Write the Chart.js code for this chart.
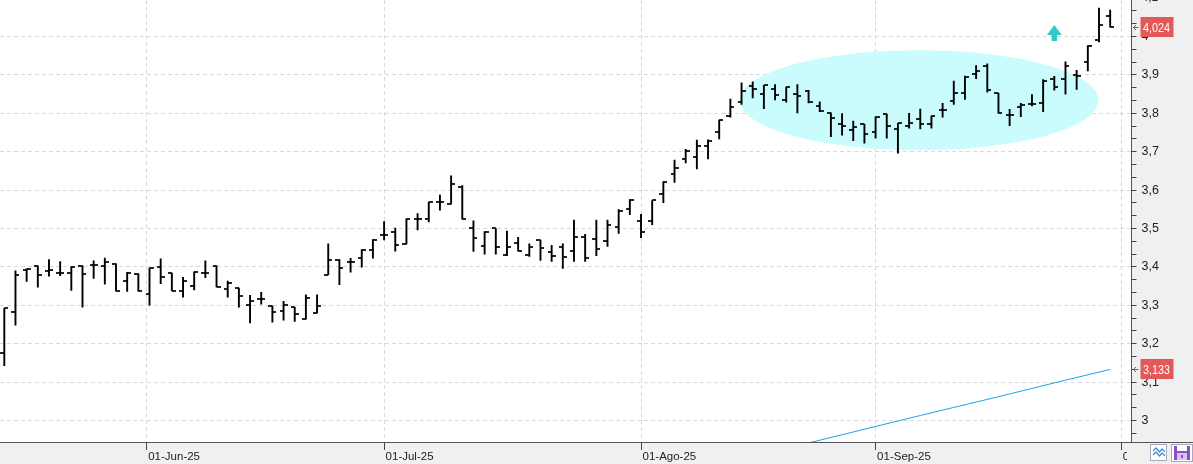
<!DOCTYPE html>
<html>
<head>
<meta charset="utf-8">
<script src="https://cdn.jsdelivr.net/npm/chart.js@4"></script>
<style>
html, body { margin: 0; padding: 0; background: #f0f0f0; overflow: hidden; }
#wrap { width: 1193px; height: 464px; }
</style>
</head>
<body>
<div id="wrap"><canvas id="chart" width="1193" height="464"></canvas></div>
<script>

// daily OHLC, one entry per trading day (14-May-25 .. 30-Sep-25)
const openPrices = [
	3.177, 3.283, 3.392, 3.403, 3.390, 3.383, 3.385, 3.403, 3.404, 3.402,
	3.408, 3.363, 3.382, 3.330, 3.401, 3.384, 3.337, 3.351, 3.383, 3.403,
	3.343, 3.345, 3.300, 3.317, 3.298, 3.284, 3.295, 3.264, 3.280, 3.380,
	3.419, 3.413, 3.423, 3.445, 3.484, 3.490, 3.460, 3.524, 3.525, 3.569,
	3.564, 3.608, 3.500, 3.454, 3.500, 3.430, 3.461, 3.430, 3.470, 3.440,
	3.452, 3.441, 3.477, 3.473, 3.467, 3.503, 3.550, 3.520, 3.519, 3.589,
	3.642, 3.681, 3.686, 3.716, 3.750, 3.792, 3.829, 3.872, 3.851, 3.862,
	3.834, 3.851, 3.858, 3.819, 3.801, 3.773, 3.757, 3.771, 3.750, 3.798,
	3.758, 3.766, 3.785, 3.772, 3.809, 3.832, 3.852, 3.902, 3.922, 3.852,
	3.796, 3.817, 3.825, 3.826, 3.888, 3.888, 3.899, 3.934, 3.991, 4.053
];
const highPrices = [
	3.292, 3.390, 3.395, 3.403, 3.419, 3.414, 3.401, 3.403, 3.416, 3.423,
	3.408, 3.386, 3.382, 3.397, 3.421, 3.384, 3.373, 3.387, 3.416, 3.403,
	3.363, 3.345, 3.326, 3.334, 3.298, 3.310, 3.295, 3.327, 3.327, 3.460,
	3.419, 3.422, 3.445, 3.471, 3.518, 3.501, 3.525, 3.539, 3.569, 3.587,
	3.637, 3.612, 3.520, 3.492, 3.500, 3.493, 3.477, 3.460, 3.470, 3.456,
	3.460, 3.522, 3.485, 3.522, 3.522, 3.549, 3.575, 3.537, 3.573, 3.622,
	3.678, 3.706, 3.730, 3.731, 3.782, 3.837, 3.879, 3.882, 3.873, 3.875,
	3.868, 3.875, 3.860, 3.830, 3.801, 3.799, 3.780, 3.771, 3.791, 3.798,
	3.774, 3.800, 3.811, 3.793, 3.826, 3.884, 3.897, 3.924, 3.929, 3.852,
	3.810, 3.826, 3.849, 3.888, 3.896, 3.934, 3.912, 3.976, 4.074, 4.069
];
const lowPrices = [
	3.143, 3.248, 3.362, 3.347, 3.376, 3.377, 3.339, 3.295, 3.370, 3.355,
	3.337, 3.336, 3.337, 3.300, 3.356, 3.338, 3.321, 3.340, 3.372, 3.348,
	3.321, 3.295, 3.254, 3.303, 3.256, 3.261, 3.258, 3.264, 3.280, 3.380,
	3.354, 3.386, 3.399, 3.423, 3.470, 3.441, 3.460, 3.496, 3.517, 3.548,
	3.564, 3.524, 3.440, 3.433, 3.433, 3.429, 3.441, 3.427, 3.417, 3.414,
	3.396, 3.414, 3.414, 3.429, 3.453, 3.487, 3.536, 3.476, 3.510, 3.567,
	3.620, 3.671, 3.655, 3.681, 3.733, 3.790, 3.823, 3.840, 3.812, 3.835,
	3.829, 3.801, 3.827, 3.804, 3.739, 3.743, 3.729, 3.722, 3.735, 3.735,
	3.696, 3.761, 3.759, 3.761, 3.790, 3.823, 3.836, 3.890, 3.855, 3.800,
	3.768, 3.791, 3.819, 3.804, 3.860, 3.850, 3.862, 3.910, 3.986, 4.024
];
const closePrices = [
	3.292, 3.380, 3.395, 3.380, 3.392, 3.384, 3.401, 3.382, 3.404, 3.413,
	3.338, 3.383, 3.337, 3.397, 3.374, 3.338, 3.363, 3.387, 3.383, 3.348,
	3.357, 3.324, 3.312, 3.317, 3.282, 3.301, 3.277, 3.320, 3.299, 3.417,
	3.396, 3.413, 3.445, 3.471, 3.484, 3.457, 3.525, 3.524, 3.569, 3.569,
	3.616, 3.524, 3.474, 3.492, 3.452, 3.451, 3.441, 3.451, 3.449, 3.428,
	3.426, 3.477, 3.423, 3.447, 3.510, 3.546, 3.574, 3.490, 3.573, 3.622,
	3.657, 3.703, 3.716, 3.728, 3.782, 3.817, 3.858, 3.862, 3.873, 3.847,
	3.868, 3.845, 3.829, 3.806, 3.789, 3.767, 3.763, 3.745, 3.791, 3.768,
	3.774, 3.774, 3.772, 3.792, 3.809, 3.853, 3.895, 3.910, 3.860, 3.802,
	3.796, 3.821, 3.825, 3.884, 3.869, 3.922, 3.897, 3.976, 4.030, 4.024
];

// long moving average (only its upper end is inside the window)
const maIndex = [ 68, 75, 82, 89, 95, 99 ];
const maValues = [ 2.913, 2.963, 3.013, 3.062, 3.105, 3.133 ];

// month ticks on the day axis (01-Jun falls on a Sunday, between two bars)
const tickIndex = [ 12.75, 34, 57, 78, 100 ];
const tickLabels = [ '01-Jun-25', '01-Jul-25', '01-Ago-25', '01-Sep-25', '01-Oct-25' ];

// drawn annotations, in data units
const zoneCenter = [ 81.9, 3.834 ];
const zoneRadius = [ 16.06, 0.1304 ];
const signalIndex = 94;
const signalValue = 4.030;


const plain = "'Liberation Sans', Arial, sans-serif";

function makeTick ( side ) {

	const c = document.createElement( 'canvas' );
	c.width = 8;
	c.height = 2;
	const g = c.getContext( '2d' );
	g.fillStyle = 'rgba(0,0,0,0.85)';
	g.fillRect( side === 'left' ? 0 : 4, 0, 4, 2 );
	return c;

}

function isMajor ( v ) {

	return Math.abs( v * 10 - Math.round( v * 10 ) ) < 1e-6;

}

function fmt ( v, digits ) {

	return ( digits === undefined ? String( Math.round( v * 10 ) / 10 ) : v.toFixed( digits ) ).replace( '.', ',' );

}

function noPadding ( s ) {

	s.paddingLeft = 0;
	s.paddingRight = 0;
	s.paddingTop = 0;
	s.paddingBottom = 0;

}

const decor = {
	id: 'decor',

	beforeDraw ( chart ) {

		const { ctx, chartArea: a } = chart;
		ctx.save();
		ctx.fillStyle = '#f0f0f0';
		ctx.fillRect( 0, 0, chart.width, chart.height );
		ctx.fillStyle = '#ffffff';
		ctx.fillRect( a.left, a.top, a.right - a.left, a.bottom - a.top );
		ctx.restore();

	},

	beforeDatasetsDraw ( chart ) {

		const { ctx, chartArea: a, scales: { x, y } } = chart;

		ctx.save();
		ctx.beginPath();
		ctx.rect( a.left, a.top, a.right - a.left, a.bottom - a.top );
		ctx.clip();

		// highlighted zone
		const cx = x.getPixelForValue( zoneCenter[ 0 ] );
		const cy = y.getPixelForValue( zoneCenter[ 1 ] );
		const rx = x.getPixelForValue( zoneCenter[ 0 ] + zoneRadius[ 0 ] ) - cx;
		const ry = cy - y.getPixelForValue( zoneCenter[ 1 ] + zoneRadius[ 1 ] );
		ctx.fillStyle = '#cafcfd';
		ctx.beginPath();
		ctx.ellipse( cx, cy, rx, ry, 0, 0, Math.PI * 2 );
		ctx.fill();

		// buy signal arrow
		const ax = x.getPixelForValue( signalIndex );
		const ay = y.getPixelForValue( signalValue );
		ctx.fillStyle = '#33c9c9';
		ctx.beginPath();
		ctx.moveTo( ax, ay );
		ctx.lineTo( ax + 7.5, ay + 10 );
		ctx.lineTo( ax + 2.7, ay + 10 );
		ctx.lineTo( ax + 2.7, ay + 16 );
		ctx.lineTo( ax - 2.7, ay + 16 );
		ctx.lineTo( ax - 2.7, ay + 10 );
		ctx.lineTo( ax - 7.5, ay + 10 );
		ctx.closePath();
		ctx.fill();

		ctx.restore();

	},

	afterDraw ( chart ) {

		const { ctx, scales: { y } } = chart;
		const W = chart.width;
		const H = chart.height;

		ctx.save();

		// hide the clipped october label behind the button strip
		ctx.fillStyle = '#f0f0f0';
		ctx.fillRect( 1127, y.bottom + 1, W - 1127, H - y.bottom - 1 );
		ctx.strokeStyle = '#555';
		ctx.lineWidth = 1;
		ctx.beginPath();
		ctx.moveTo( y.left, y.bottom + 0.5 );
		ctx.lineTo( W, y.bottom + 0.5 );
		ctx.stroke();

		// partial top label
		ctx.font = '12px ' + plain;
		ctx.fillStyle = '#222';
		ctx.textBaseline = 'middle';
		ctx.fillText( '4,1', y.left + 10, y.getPixelForValue( 4.1 ) );

		// last value tags
		const tags = [ closePrices[ closePrices.length - 1 ], maValues[ maValues.length - 1 ] ];
		tags.forEach( v => {

			const py = Math.round( y.getPixelForValue( v ) );
			const bx = y.left + 9;
			ctx.fillStyle = '#e35858';
			ctx.fillRect( bx, py - 10, 33, 20 );
			ctx.save();
			ctx.fillStyle = '#ffffff';
			ctx.font = '13.5px ' + plain;
			ctx.textBaseline = 'middle';
			ctx.textAlign = 'left';
			ctx.translate( bx + 2.5, py + 1 );
			ctx.scale( 0.8, 1 );
			ctx.fillText( fmt( v, 3 ), 0, 0 );
			ctx.restore();

			ctx.strokeStyle = '#666';
			ctx.lineWidth = 1;
			ctx.beginPath();
			ctx.moveTo( y.left + 2, py + 0.5 );
			ctx.lineTo( y.left + 7, py + 0.5 );
			ctx.moveTo( y.left + 4.5, py - 2 );
			ctx.lineTo( y.left + 2, py + 0.5 );
			ctx.lineTo( y.left + 4.5, py + 3 );
			ctx.stroke();

		} );

		// toolbar buttons
		ctx.fillStyle = '#ffffff';
		ctx.fillRect( 1150.5, 444.5, 16, 16 );
		ctx.strokeStyle = '#a8a8b8';
		ctx.strokeRect( 1150.5, 444.5, 16, 16 );
		ctx.strokeStyle = '#3f8fd8';
		ctx.lineWidth = 1.2;
		[ 0, 4 ].forEach( d => {

			ctx.beginPath();
			ctx.moveTo( 1153, 451 + d );
			ctx.lineTo( 1156, 448 + d );
			ctx.lineTo( 1159.5, 452 + d );
			ctx.lineTo( 1162, 449 + d );
			ctx.lineTo( 1165, 452 + d );
			ctx.stroke();

		} );

		ctx.fillStyle = '#ffffff';
		ctx.fillRect( 1171.5, 444, 21, 18 );
		ctx.strokeStyle = '#a8a8b8';
		ctx.lineWidth = 1;
		ctx.strokeRect( 1171.5, 444.5, 21, 17 );
		ctx.fillStyle = '#8a4fc7';
		ctx.fillRect( 1174, 446, 16, 14 );
		ctx.fillStyle = '#ffffff';
		ctx.fillRect( 1177, 446, 10, 5 );
		ctx.fillStyle = '#d9c4ef';
		ctx.fillRect( 1177, 453, 10, 7 );
		ctx.fillStyle = '#8a4fc7';
		ctx.fillRect( 1181, 455, 2, 3 );

		ctx.restore();

	}
};

const days = closePrices.map( ( c, i ) => i );

const config = {
	type: 'bar',
	data: {
		datasets: [
			{
				type: 'line',
				data: maIndex.map( ( d, i ) => ( { x: d, y: maValues[ i ] } ) ),
				borderColor: '#1ba6e6',
				borderWidth: 1,
				pointRadius: 0,
				tension: 0,
				order: 4
			},
			{
				type: 'bar',
				data: days.map( i => ( { x: i, y: [ lowPrices[ i ], highPrices[ i ] ] } ) ),
				backgroundColor: '#000',
				borderWidth: 0,
				barThickness: 1.25,
				order: 3
			},
			{
				type: 'scatter',
				data: days.map( i => ( { x: i, y: openPrices[ i ] } ) ),
				pointStyle: makeTick( 'left' ),
				order: 2
			},
			{
				type: 'scatter',
				data: days.map( i => ( { x: i, y: closePrices[ i ] } ) ),
				pointStyle: makeTick( 'right' ),
				order: 1
			}
		]
	},
	options: {
		responsive: false,
		animation: false,
		events: [],
		layout: { padding: 0, autoPadding: false },
		plugins: {
			legend: { display: false },
			tooltip: { enabled: false }
		},
		scales: {
			x: {
				type: 'linear',
				min: -0.385,
				max: 100.91,
				offset: false,
				afterFit: s => { s.height = 22; noPadding( s ); },
				afterBuildTicks: s => { s.ticks = tickIndex.map( v => ( { value: v } ) ); },
				ticks: {
					autoSkip: false,
					maxRotation: 0,
					align: 'start',
					padding: 0,
					labelOffset: 1.5,
					color: '#222',
					font: { family: plain, size: 11.5 },
					callback: ( v, i ) => tickLabels[ i ]
				},
				grid: {
					offset: false,
					color: '#d9d9d9',
					tickColor: '#444',
					tickLength: 8
				},
				border: { color: '#555', dash: [ 4, 3 ] }
			},
			y: {
				position: 'right',
				min: 2.944,
				max: 4.095,
				afterFit: s => { s.width = 61.5; noPadding( s ); },
				afterBuildTicks: s => {

					const t = [];
					for ( let k = 89; k <= 122; k ++ ) t.push( { value: k / 30 } );
					s.ticks = t;

				},
				ticks: {
					autoSkip: false,
					padding: 5,
					color: '#222',
					font: { family: plain, size: 12.5 },
					callback: v => isMajor( v ) ? fmt( v ) : ''
				},
				grid: {
					color: c => ( c.tick && isMajor( c.tick.value ) ) ? '#d9d9d9' : 'rgba(0,0,0,0)',
					tickColor: '#444',
					tickLength: 5
				},
				border: { color: '#555', dash: [ 4, 3 ] }
			}
		}
	},
	plugins: [ decor ]
};

new Chart( document.getElementById( 'chart' ), config );

</script>
</body>
</html>
